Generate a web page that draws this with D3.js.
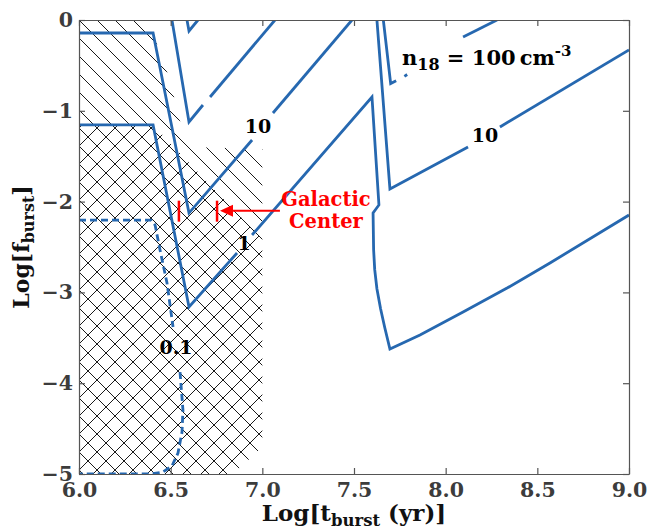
<!DOCTYPE html>
<html>
<head>
<meta charset="utf-8">
<script src="https://cdn.jsdelivr.net/npm/d3@7"></script>
<style>
body { margin: 0; background: #fff; }
text { font-family: "DejaVu Serif", serif; font-weight: bold; }
</style>
</head>
<body>
<div id="vis"></div>
<script>
// Frame and plot area
const FRAME_WIDTH = 651;
const FRAME_HEIGHT = 526;
const MARGINS = {left: 79, right: 22, top: 20, bottom: 52};
const VIS_WIDTH = FRAME_WIDTH - MARGINS.left - MARGINS.right;
const VIS_HEIGHT = FRAME_HEIGHT - MARGINS.top - MARGINS.bottom;

// Tick values
const X_TICKS = [6.0, 6.5, 7.0, 7.5, 8.0, 8.5, 9.0];
const Y_TICKS = [0, -1, -2, -3, -4, -5];

// Contour pieces, [log t_burst, log f_burst] (gaps are where the labels sit)
const LEVEL_1000 = [[6.589, 0], [6.60, -0.121], [6.649, 0]];
const LEVEL_100_A = [[6.507, 0], [6.60, -1.123], [6.676, -0.936]];
const LEVEL_100_B = [[6.715, -0.848], [7.069, 0]];
const LEVEL_100_C = [[7.66, 0], [7.70, -0.70], [7.73, -0.67]];
const LEVEL_100_D = [[7.775, -0.62], [7.79, -0.60]];
const LEVEL_100_E = [[8.095, -0.187], [8.28, 0]];
const LEVEL_10_A = [[6.0, -0.143], [6.404, -0.143], [6.60, -2.126], [6.944, -1.322]];
const LEVEL_10_B = [[7.058, -1.024], [7.489, 0]];
const LEVEL_10_C = [[7.625, 0], [7.696, -1.861], [8.122, -1.399]];
const LEVEL_10_D = [[8.296, -1.178], [9.0, -0.330]];
const LEVEL_1_A = [[6.0, -1.156], [6.404, -1.156], [6.60, -3.16], [6.862, -2.566]];
const LEVEL_1_B = [[6.944, -2.368], [7.598, -0.848], [7.636, -2.037], [7.604, -2.126],
  [7.607, -2.53], [7.613, -2.75], [7.625, -2.96], [7.645, -3.18], [7.668, -3.39],
  [7.696, -3.623], [7.860, -3.469], [8.095, -3.216], [8.335, -2.952], [8.569, -2.676],
  [9.0, -2.148]];
const LEVEL_01_A = [[6.0, -2.203], [6.393, -2.203], [6.415, -2.258], [6.442, -2.533],
  [6.48, -2.896], [6.513, -3.381]];
const LEVEL_01_B = [[6.551, -3.877], [6.567, -4.295], [6.562, -4.537], [6.54, -4.769],
  [6.507, -4.912], [6.458, -4.978], [6.387, -5.0], [6.0, -5.0]];

const SOLID_PIECES = [LEVEL_1000, LEVEL_100_A, LEVEL_100_B, LEVEL_100_C, LEVEL_100_D,
  LEVEL_100_E, LEVEL_10_A, LEVEL_10_B, LEVEL_10_C, LEVEL_10_D, LEVEL_1_A, LEVEL_1_B];
const DASHED_PIECES = [LEVEL_01_A, LEVEL_01_B];

// Contour labels
const LABEL_TEXT = ["10", "1", "0.1", "10"];
const LABEL_T = [6.976, 6.90, 6.529, 8.215];
const LABEL_F = [-1.167, -2.456, -3.60, -1.267];

// Excluded regions (hatched)
const REGION_BACK = [[6.0, 0], [6.39, 0], [6.43, -0.30], [6.50, -0.68], [6.54, -1.05],
  [6.60, -1.40], [7.0, -1.42], [7.0, -4.70], [6.84, -5.0], [6.0, -5.0]];
const REGION_FWD = [[6.0, -1.156], [6.404, -1.156], [7.0, -2.42], [7.0, -4.70],
  [6.84, -5.0], [6.0, -5.0]];

// Galactic Center marker
const GC_T = [6.545, 6.753];
const GC_F = -2.1;
const GC_ARROW = [7.096, 6.769];

// Frame
const FRAME = d3.select("#vis")
  .append("svg")
    .attr("width", FRAME_WIDTH)
    .attr("height", FRAME_HEIGHT);

const X_SCALE = d3.scaleLinear().domain([6, 9]).range([0, VIS_WIDTH]);
const Y_SCALE = d3.scaleLinear().domain([-5, 0]).range([VIS_HEIGHT, 0]);

const defs = FRAME.append("defs");
defs.append("clipPath").attr("id", "clip")
  .append("rect").attr("width", VIS_WIDTH).attr("height", VIS_HEIGHT);

// Hatch patterns
function hatch(id, d) {
  defs.append("pattern")
      .attr("id", id)
      .attr("patternUnits", "userSpaceOnUse")
      .attr("width", 18).attr("height", 18)
    .append("path")
      .attr("d", d)
      .attr("stroke", "#000")
      .attr("stroke-width", 0.9)
      .attr("fill", "none");
}
hatch("back", "M0,0L18,18M-9,9L9,27M9,-9L27,9");
hatch("fwd", "M0,18L18,0M-9,9L9,-9M9,27L27,9");

const PLOT = FRAME.append("g")
  .attr("transform", "translate(" + MARGINS.left + "," + MARGINS.top + ")");

const inner = PLOT.append("g").attr("clip-path", "url(#clip)");

const area = d3.line()
  .x((d) => X_SCALE(d[0]))
  .y((d) => Y_SCALE(d[1]));

inner.append("path").attr("d", area(REGION_BACK) + "Z").attr("fill", "url(#back)");
inner.append("path").attr("d", area(REGION_FWD) + "Z").attr("fill", "url(#fwd)");

// Contours
const BLUE = "#2668b0";
inner.selectAll(".solid")
  .data(SOLID_PIECES)
  .enter()
  .append("path")
    .attr("class", "solid")
    .attr("d", area)
    .attr("fill", "none")
    .attr("stroke", BLUE)
    .attr("stroke-width", 2.8)
    .attr("stroke-linejoin", "miter");

inner.selectAll(".dashed")
  .data(DASHED_PIECES)
  .enter()
  .append("path")
    .attr("class", "dashed")
    .attr("d", area)
    .attr("fill", "none")
    .attr("stroke", BLUE)
    .attr("stroke-width", 2.8)
    .attr("stroke-dasharray", "7,4");

PLOT.selectAll(".clabel")
  .data(LABEL_TEXT)
  .enter()
  .append("text")
    .attr("class", "clabel")
    .attr("x", (d, i) => X_SCALE(LABEL_T[i]))
    .attr("y", (d, i) => Y_SCALE(LABEL_F[i]))
    .attr("dy", "0.36em")
    .attr("text-anchor", "middle")
    .style("font-size", "19px")
    .attr("fill", "#000")
    .text((d) => d);

// Galactic Center
PLOT.selectAll(".gcbar")
  .data(GC_T)
  .enter()
  .append("line")
    .attr("x1", (d) => X_SCALE(d)).attr("x2", (d) => X_SCALE(d))
    .attr("y1", Y_SCALE(GC_F) - 10).attr("y2", Y_SCALE(GC_F) + 11)
    .attr("stroke", "#ff0000")
    .attr("stroke-width", 2.5);

const ax0 = X_SCALE(GC_ARROW[0]), ax1 = X_SCALE(GC_ARROW[1]), ay = Y_SCALE(GC_F);
PLOT.append("line")
  .attr("x1", ax0).attr("x2", ax1 + 10)
  .attr("y1", ay).attr("y2", ay)
  .attr("stroke", "#ff0000")
  .attr("stroke-width", 2);
PLOT.append("path")
  .attr("d", "M" + ax1 + "," + ay + "L" + (ax1 + 13) + "," + (ay - 6) + "L" + (ax1 + 13) + "," + (ay + 6) + "Z")
  .attr("fill", "#ff0000");

FRAME.append("text")
  .attr("x", 326).attr("y", 206)
  .attr("text-anchor", "middle")
  .attr("fill", "#ff0000")
  .style("font-size", "19.5px")
  .text("Galactic");
FRAME.append("text")
  .attr("x", 326).attr("y", 228)
  .attr("text-anchor", "middle")
  .attr("fill", "#ff0000")
  .style("font-size", "19.5px")
  .text("Center");

// Density label
const nlab = FRAME.append("text")
  .attr("x", 402).attr("y", 65)
  .style("font-size", "21px")
  .attr("fill", "#000");
nlab.append("tspan").text("n");
nlab.append("tspan").attr("dy", 5).style("font-size", "16px").text("18");
nlab.append("tspan").attr("dy", -5).text(" = 100\u2009cm");
nlab.append("tspan").attr("dy", -9).style("font-size", "15px").text("-3");

// Axes (ticks inside on all four sides)
const fmt = (d) => d3.format(".1f")(d);
const AX_COLOR = "#555";

const xb = PLOT.append("g")
  .attr("transform", "translate(0," + VIS_HEIGHT + ")")
  .call(d3.axisBottom(X_SCALE).tickValues(X_TICKS).tickFormat(fmt)
    .tickSize(-6).tickSizeOuter(0).tickPadding(8));
const yl = PLOT.append("g")
  .call(d3.axisLeft(Y_SCALE).tickValues(Y_TICKS).tickFormat((d) => d3.format("d")(d).replace("-", "\u2212"))
    .tickSize(-6).tickSizeOuter(0).tickPadding(6));
const xt = PLOT.append("g")
  .call(d3.axisTop(X_SCALE).tickValues(X_TICKS).tickFormat("").tickSize(-6).tickSizeOuter(0));
const yr = PLOT.append("g")
  .attr("transform", "translate(" + VIS_WIDTH + ",0)")
  .call(d3.axisRight(Y_SCALE).tickValues(Y_TICKS).tickFormat("").tickSize(-6).tickSizeOuter(0));

[xb, yl, xt, yr].forEach((g) => {
  g.selectAll("path, line").attr("stroke", AX_COLOR).attr("stroke-width", 1.2);
  g.selectAll("text")
    .attr("fill", "#3c3c3c")
    .style("font-size", "20.5px")
    .style("font-family", "'DejaVu Serif', serif")
    .style("font-weight", "bold");
});

// Axis titles
const xlab = FRAME.append("text")
  .attr("x", MARGINS.left + VIS_WIDTH / 2)
  .attr("y", 521)
  .attr("text-anchor", "middle")
  .style("font-size", "23px")
  .attr("fill", "#111");
xlab.append("tspan").text("Log[t");
xlab.append("tspan").attr("dy", 5).style("font-size", "16.5px").text("burst");
xlab.append("tspan").attr("dy", -5).text(" (yr)]");

const ylab = FRAME.append("text")
  .attr("transform", "translate(29," + (MARGINS.top + VIS_HEIGHT / 2) + ") rotate(-90)")
  .attr("text-anchor", "middle")
  .style("font-size", "22px")
  .attr("fill", "#111");
ylab.append("tspan").text("Log[f");
ylab.append("tspan").attr("dy", 5).style("font-size", "16px").text("burst");
ylab.append("tspan").attr("dy", -5).text("]");
</script>
</body>
</html>
